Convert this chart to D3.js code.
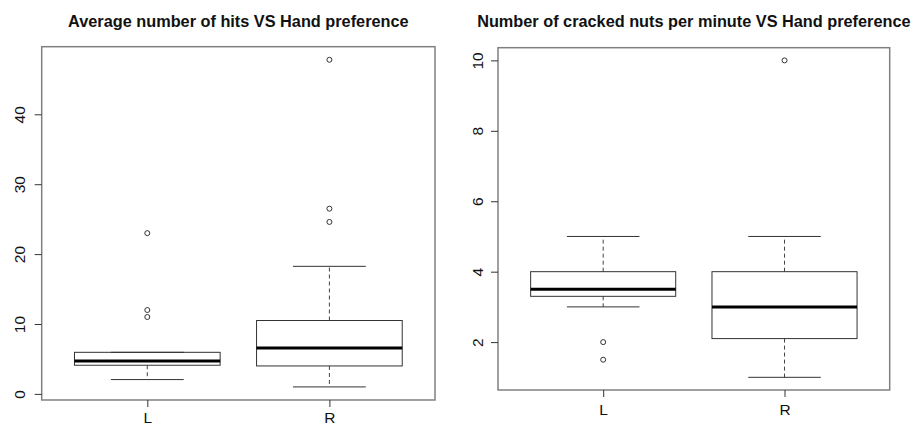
<!DOCTYPE html>
<html>
<head>
<meta charset="utf-8">
<script src="https://cdn.jsdelivr.net/npm/d3@7"></script>
<style>
  body { margin: 0; background: #fff; }
  text { font-family: "Liberation Sans", Arial, sans-serif; fill: #111; }
</style>
</head>
<body>
<svg></svg>
<script>
const groups = ["L", "R"];

// average number of hits
const hitsLower = [2.05, 1.0];
const hitsQ1 = [4.1, 4.0];
const hitsMedian = [4.7, 6.55];
const hitsQ3 = [5.95, 10.5];
const hitsUpper = [5.95, 18.25];
const hitsOutliers = [[11, 12, 23], [24.6, 26.5, 47.8]];
const hitsTicks = [0, 10, 20, 30, 40];

// cracked nuts per minute
const nutsLower = [3.0, 1.0];
const nutsQ1 = [3.3, 2.1];
const nutsMedian = [3.5, 3.0];
const nutsQ3 = [4.0, 4.0];
const nutsUpper = [5.0, 5.0];
const nutsOutliers = [[2.0, 1.5], [10]];
const nutsTicks = [2, 4, 6, 8, 10];

const svg = d3.select("svg")
    .attr("width", 916)
    .attr("height", 427);

function boxPanel(opt) {
    const g = svg.append("g")
        .attr("transform", `translate(${opt.left},${opt.top})`);
    const width = opt.width, height = opt.height;

    const stats = groups.map((name, i) => ({
        name, i,
        lower: opt.lower[i], q1: opt.q1[i], median: opt.median[i],
        q3: opt.q3[i], upper: opt.upper[i], out: opt.outliers[i]
    }));

    // R style range: data range extended by 4%
    const all = stats.flatMap(d => [d.lower, d.upper, ...d.out]);
    let [lo, hi] = d3.extent(all);
    const pad = (hi - lo) * 0.04;

    const y = d3.scaleLinear()
        .domain([lo - pad, hi + pad])
        .range([height, 0]);

    const x = d3.scaleLinear()
        .domain([0.5 - 0.08, groups.length + 0.5 + 0.08])
        .range([0, width]);

    const boxW = x(1.4) - x(1);
    const capW = boxW / 2;

    const box = g.selectAll(".box")
        .data(stats)
        .enter().append("g")
        .attr("class", "box");

    // whiskers
    box.append("line")
        .attr("x1", d => x(d.i + 1)).attr("x2", d => x(d.i + 1))
        .attr("y1", d => y(d.q3)).attr("y2", d => y(d.upper))
        .attr("stroke", "#444").attr("stroke-dasharray", "4,3");
    box.append("line")
        .attr("x1", d => x(d.i + 1)).attr("x2", d => x(d.i + 1))
        .attr("y1", d => y(d.q1)).attr("y2", d => y(d.lower))
        .attr("stroke", "#444").attr("stroke-dasharray", "4,3");

    // caps
    box.append("line")
        .attr("x1", d => x(d.i + 1) - capW).attr("x2", d => x(d.i + 1) + capW)
        .attr("y1", d => y(d.upper)).attr("y2", d => y(d.upper))
        .attr("stroke", "#333");
    box.append("line")
        .attr("x1", d => x(d.i + 1) - capW).attr("x2", d => x(d.i + 1) + capW)
        .attr("y1", d => y(d.lower)).attr("y2", d => y(d.lower))
        .attr("stroke", "#333");

    box.append("rect")
        .attr("x", d => x(d.i + 1) - boxW)
        .attr("y", d => y(d.q3))
        .attr("width", boxW * 2)
        .attr("height", d => y(d.q1) - y(d.q3))
        .attr("fill", "none")
        .attr("stroke", "#333");

    box.append("line")
        .attr("x1", d => x(d.i + 1) - boxW).attr("x2", d => x(d.i + 1) + boxW)
        .attr("y1", d => y(d.median)).attr("y2", d => y(d.median))
        .attr("stroke", "#000").attr("stroke-width", 3);

    box.selectAll("circle")
        .data(d => d.out.map(v => ({v, i: d.i})))
        .enter().append("circle")
        .attr("cx", d => x(d.i + 1))
        .attr("cy", d => y(d.v))
        .attr("r", 2.5)
        .attr("fill", "none")
        .attr("stroke", "#333");

    // frame
    g.append("rect")
        .attr("width", width)
        .attr("height", height)
        .attr("fill", "none")
        .attr("stroke", "#808080")
        .attr("stroke-width", 1.5);

    const yAxis = g.append("g")
        .call(d3.axisLeft(y).tickValues(opt.ticks).tickSize(7).tickFormat(d3.format("d")));
    yAxis.select(".domain").remove();
    yAxis.selectAll("line").attr("stroke", "#333");
    yAxis.selectAll("text")
        .attr("transform", "rotate(-90)")
        .attr("x", 0)
        .attr("y", opt.tickLabelY)
        .attr("dy", 0)
        .attr("text-anchor", "middle")
        .style("font-size", "15.5px")
        .style("font-family", "'Liberation Sans', Arial, sans-serif")
        .attr("fill", "#111");

    const xAxis = g.append("g")
        .attr("transform", `translate(0,${height})`)
        .call(d3.axisBottom(x).tickValues([1, 2]).tickSize(7).tickFormat(d => groups[d - 1]));
    xAxis.select(".domain").remove();
    xAxis.selectAll("line").attr("stroke", "#333");
    xAxis.selectAll("text")
        .attr("y", opt.labelY)
        .attr("dy", 0)
        .style("font-size", "15.5px")
        .style("font-family", "'Liberation Sans', Arial, sans-serif")
        .attr("fill", "#111");

    svg.append("text")
        .attr("x", opt.left + width / 2)
        .attr("y", opt.titleY)
        .attr("text-anchor", "middle")
        .style("font-size", "16.3px")
        .style("font-weight", "bold")
        .text(opt.title);
}

boxPanel({
    title: "Average number of hits VS Hand preference",
    left: 41.7, top: 46.7, width: 393.3, height: 353.3,
    titleY: 26.5, labelY: 23.3, tickLabelY: -17,
    lower: hitsLower, q1: hitsQ1, median: hitsMedian, q3: hitsQ3,
    upper: hitsUpper, outliers: hitsOutliers, ticks: hitsTicks
});

boxPanel({
    title: "Number of cracked nuts per minute VS Hand preference",
    left: 498, top: 47.7, width: 391.7, height: 342.3,
    titleY: 27, labelY: 25, tickLabelY: -15,
    lower: nutsLower, q1: nutsQ1, median: nutsMedian, q3: nutsQ3,
    upper: nutsUpper, outliers: nutsOutliers, ticks: nutsTicks
});
</script>
</body>
</html>
